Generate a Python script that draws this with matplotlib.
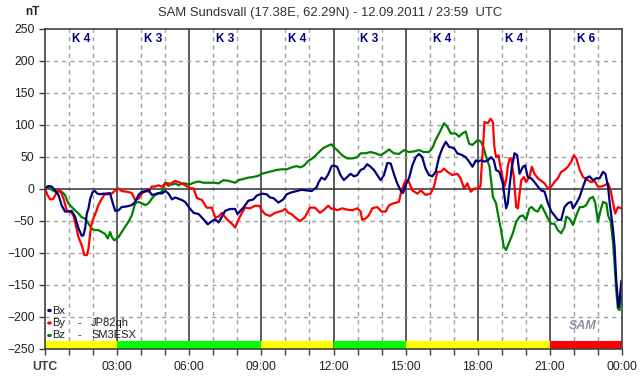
import matplotlib
matplotlib.use("Agg")
import matplotlib.pyplot as plt

# ---- data (hours UTC, nT) ----
bx_t = [0, .14, .28, .42, .56, .69, .83, .97, 1.11, 1.25, 1.39, 1.53, 1.60, 1.67, 1.74, 1.81, 1.88, 1.99, 2.08, 2.18,
        2.29, 2.43, 2.57, 2.71, 2.82, 2.92, 3.06, 3.19, 3.40, 3.61, 3.75, 3.89, 4.03, 4.17, 4.31, 4.44, 4.58, 4.72, 4.86,
        5.0, 5.14, 5.28, 5.42, 5.56, 5.69, 5.83,
        6.0, 6.18, 6.39, 6.59, 6.77, 6.94, 7.08, 7.22, 7.36, 7.49, 7.70, 7.91, 8.01, 8.12, 8.25, 8.46, 8.67, 8.81, 9.02,
        9.22, 9.36, 9.50, 9.71, 9.91, 10.05, 10.26, 10.47, 10.67, 10.88, 11.09, 11.30, 11.37, 11.50, 11.64, 11.78, 11.92,
        12.0, 12.15, 12.29, 12.43, 12.57, 12.71, 12.85, 12.99, 13.13, 13.26, 13.40, 13.54, 13.68, 13.82, 13.96, 14.10,
        14.24, 14.38, 14.51, 14.65, 14.79, 14.89, 15.0, 15.14, 15.28, 15.42, 15.56, 15.69, 15.83, 15.97, 16.11, 16.25,
        16.39, 16.53, 16.67, 16.81, 17.01, 17.15, 17.36, 17.5, 17.64, 17.78, 17.92,
        18.0, 18.14, 18.28, 18.42, 18.56, 18.67, 18.76, 18.9, 19.04, 19.18, 19.25, 19.32, 19.42, 19.53, 19.64, 19.74,
        19.88, 19.97, 20.08, 20.22, 20.36, 20.5, 20.64, 20.78, 20.92, 21.06, 21.19, 21.33, 21.47, 21.61, 21.75, 21.89,
        21.96, 22.1, 22.24, 22.38, 22.51, 22.65, 22.79, 22.93, 23.07, 23.21, 23.31, 23.42, 23.49, 23.56, 23.63, 23.69,
        23.76, 23.85, 23.9, 23.97]
bx_v = [0, 4, 3, -3, -10, -26, -36, -36, -35, -44, -62, -74, -73, -62, -39, -31, -16, -5, -4, -8,
        -9, -8, -9, -8, -23, -35, -34, -29, -28, -26, -21, -10, -5, -5, -2, -10, -9, -7, -8,
        -4, -8, -17, -14, -16, -18, -21,
        -30, -38, -40, -48, -56, -51, -48, -53, -44, -35, -32, -32, -40, -35, -30, -19, -17, -11, -8,
        -9, -14, -15, -22, -17, -9, -6, -4, -2, -3, -4, 2, 9, 17, 14, 22, 35,
        36, 34, 21, 13, 18, 23, 19, 21, 29, 31, 38, 34, 29, 21, 13, 21,
        40, 39, 23, 8, -3, -7, 5, 16, 36, 49, 54, 49, 31, 21, 19, 26,
        49, 63, 73, 65, 63, 55, 52, 49, 42, 34, 44,
        42, 44, 42, 44, 49, 44, 29, 26, 8, -31, -23, 3, 34, 55, 52, 23,
        34, 36, 18, 16, 10, 3, -3, -5, -23, -36, -42, -49, -49, -29, -23, -21,
        -31, -23, -13, 3, 16, 19, 13, 16, 16, 26, 23, 3, -23, -44, -65, -91,
        -143, -185, -175, -145]

by_t = [0, .10, .21, .35, .46, .56, .63, .69, .79, .90, 1.01, 1.11, 1.18, 1.25, 1.39, 1.53, 1.64, 1.74, 1.81, 1.88,
        1.94, 2.01, 2.13, 2.22, 2.36, 2.5, 2.64, 2.78, 2.92, 3.06, 3.19, 3.40, 3.61, 3.75, 3.89, 4.03, 4.17, 4.31,
        4.44, 4.58, 4.72, 4.86, 5.0, 5.14, 5.28, 5.42, 5.56, 5.69, 5.83,
        6.0, 6.18, 6.32, 6.53, 6.73, 6.94, 7.08, 7.22, 7.36, 7.56, 7.77, 7.91, 8.02, 8.19, 8.32, 8.53, 8.74, 8.91,
        9.04, 9.15, 9.36, 9.57, 9.85, 9.99, 10.12, 10.26, 10.40, 10.61, 10.81, 11.02, 11.23, 11.44, 11.64, 11.78, 11.92,
        12.0, 12.15, 12.36, 12.57, 12.78, 12.99, 13.13, 13.19, 13.33, 13.47, 13.61, 13.82, 14.0, 14.17, 14.31, 14.51,
        14.72, 14.83, 15.0, 15.14, 15.28, 15.49, 15.63, 15.83, 16.04, 16.18, 16.32, 16.46, 16.6, 16.74, 16.94, 17.15,
        17.29, 17.43, 17.57, 17.71, 17.85,
        18.0, 18.11, 18.21, 18.28, 18.42, 18.53, 18.63, 18.69, 18.76, 18.86, 18.97, 19.11, 19.18, 19.25, 19.32, 19.39,
        19.5, 19.6, 19.67, 19.74, 19.81, 19.92, 20.01, 20.15, 20.25, 20.36, 20.5, 20.64, 20.78, 20.92, 21.06, 21.19,
        21.33, 21.47, 21.61, 21.75, 21.89, 22.0, 22.1, 22.24, 22.38, 22.58, 22.72, 22.86, 23.0, 23.14, 23.28, 23.42,
        23.53, 23.63, 23.72, 23.83, 23.97]
by_v = [0, -10, -17, -16, -8, -2, -3, -8, -18, -34, -36, -38, -42, -52, -76, -89, -104, -104, -94, -70,
        -55, -47, -36, -26, -16, -8, -7, -8, -3, 0, -4, -5, -7, -18, -16, -8, -3, -5,
        3, 3, 5, 3, 8, 4, 9, 12, 10, 8, 5,
        1, 0, -15, -18, -30, -30, -45, -44, -38, -48, -55, -61, -51, -38, -30, -31, -27, -27,
        -35, -40, -43, -38, -35, -32, -38, -40, -45, -51, -45, -30, -30, -38, -32, -27, -32,
        -31, -34, -31, -33, -34, -31, -36, -49, -47, -42, -31, -29, -36, -36, -26, -23,
        -21, -3, 13, 10, -3, -8, -3, -10, -8, 3, 26, 26, 31, 26, 21, 23,
        16, 0, 8, -5, 0,
        0, 3, 60, 104, 102, 109, 104, 65, 49, 52, 29, 3, 13, 34, 47, 47,
        18, -29, -31, -8, 13, 18, 10, 18, 34, 23, 16, 12, 8, 0, 3, 10,
        16, 26, 29, 34, 42, 52, 47, 29, 18, 13, 10, 12, 3, 3, 5, 8,
        -3, -23, -39, -29, -31]

bz_t = [0, .14, .28, .42, .56, .69, .83, .97, 1.11, 1.25, 1.39, 1.53, 1.67, 1.81, 1.94, 2.08, 2.22, 2.36, 2.5, 2.61,
        2.71, 2.78, 2.88, 3.06, 3.19, 3.33, 3.47, 3.61, 3.75, 3.89, 4.03, 4.17, 4.31, 4.44, 4.58, 4.72, 4.86, 5.0,
        5.14, 5.28, 5.42, 5.56, 5.69, 5.83,
        6.0, 6.18, 6.39, 6.59, 6.8, 7.01, 7.22, 7.42, 7.63, 7.91, 8.05, 8.25, 8.46, 8.67, 8.88, 9.02, 9.22, 9.43,
        9.64, 9.85, 10.05, 10.26, 10.47, 10.61, 10.75, 10.95, 11.16, 11.37, 11.57, 11.78, 11.92,
        12.0, 12.15, 12.36, 12.57, 12.78, 12.99, 13.13, 13.33, 13.54, 13.75, 13.96, 14.17, 14.31, 14.51, 14.72, 14.93,
        15.14, 15.35, 15.56, 15.76, 15.97, 16.11, 16.25, 16.39, 16.6, 16.74, 16.88, 17.08, 17.22, 17.36, 17.5, 17.64,
        17.78, 17.92,
        18.0, 18.14, 18.25, 18.35, 18.49, 18.63, 18.76, 18.86, 18.97, 19.08, 19.18, 19.32, 19.46, 19.6, 19.74, 19.88,
        20.01, 20.15, 20.25, 20.36, 20.5, 20.64, 20.78, 20.92, 21.06, 21.19, 21.33, 21.47, 21.61, 21.68, 21.82, 21.96,
        22.1, 22.24, 22.38, 22.51, 22.65, 22.79, 22.89, 23.0, 23.11, 23.21, 23.35, 23.42, 23.53, 23.63, 23.69, 23.76,
        23.83, 23.9, 23.97]
bz_v = [0, 3, -2, -5, -5, -5, -10, -23, -29, -34, -39, -45, -47, -55, -63, -65, -65, -68, -71, -78,
        -68, -76, -81, -76, -68, -60, -52, -42, -23, -21, -23, -26, -23, -16, -10, -8, -5, 9,
        8, 6, 8, 5, 8, 8,
        6, 9, 11, 9, 9, 9, 8, 13, 12, 9, 13, 15, 17, 18, 20, 23, 25, 27,
        29, 30, 30, 33, 35, 33, 35, 43, 48, 56, 63, 67, 69,
        65, 60, 52, 47, 47, 49, 55, 55, 57, 55, 52, 57, 61, 55, 54, 60,
        57, 58, 60, 57, 57, 63, 76, 86, 102, 96, 86, 86, 81, 86, 89, 70,
        68, 73,
        76, 73, 63, 49, 34, -13, -23, -44, -65, -91, -96, -83, -70, -52, -44, -42,
        -49, -31, -29, -34, -36, -26, -36, -47, -55, -55, -65, -70, -60, -44, -47, -57,
        -42, -29, -29, -26, -16, -13, -23, -52, -34, -21, -23, -42, -52, -86, -117, -159,
        -188, -190, -169]

k_index = [4, 3, 3, 4, 3, 4, 4, 6]
k_colors = {3: "#00ff00", 4: "#ffff00", 6: "#ff0000"}
hour_labels = ["UTC", "03:00", "06:00", "09:00", "12:00", "15:00", "18:00", "21:00", "00:00"]

W, H = 642, 376
fig = plt.figure(figsize=(W / 100, H / 100), dpi=100)
plt.rcParams['font.family'] = ['Liberation Sans', 'DejaVu Sans']
ax = fig.add_axes([45 / W, 1 - 348.5 / H, 577 / W, 320 / H])

def fx(x):
    return x / W

def fy(y):
    return 1 - y / H

# grid
for h in range(1, 24):
    if h % 3:
        ax.axvline(h, color="#a0a0a0", lw=1, ls=(0, (3, 3)), zorder=1)
    else:
        ax.axvline(h, color="#404040", lw=1.2, zorder=1)
for v in range(-200, 250, 50):
    if v == 0:
        ax.axhline(0, color="#404040", lw=1.2, zorder=1)
    else:
        ax.axhline(v, color="#a0a0a0", lw=1, ls=(0, (3, 3)), zorder=1)

ax.plot(bz_t, bz_v, color="#008000", lw=1.6, zorder=3)
ax.plot(by_t, by_v, color="#ff0000", lw=1.6, zorder=4)
ax.plot(bx_t, bx_v, color="#000080", lw=1.6, zorder=5)

# K-index band and labels
for i, k in enumerate(k_index):
    ax.bar(i * 3, 12.5, width=3, bottom=-250, align="edge", color=k_colors[k], lw=0, zorder=6)
    ax.text(i * 3 + 1.5, 234, "K %d" % k, color="#000080", fontsize=8.5, fontweight="bold",
            ha="center", va="center", zorder=7)

ax.set_xlim(0, 24)
ax.set_ylim(-250, 250)
ax.set_yticks(range(-250, 251, 50))
ax.set_xticks(range(0, 25, 3))
ax.set_xticklabels(hour_labels)
ax.set_xticks(range(0, 25), minor=True)
ax.tick_params(axis="both", which="both", direction="out", length=4, width=1, color="#404040",
               labelsize=8.8, labelcolor="#202020")
ax.tick_params(axis="x", pad=5)
ax.get_xticklabels()[0].set_fontweight("bold")
ax.get_xticklabels()[0].set_color("#404040")
for s in ax.spines.values():
    s.set_color("#404040")
    s.set_linewidth(1.2)
    s.set_zorder(8)

fig.text(fx(40), fy(12), "nT", fontsize=8.5, fontweight="bold", color="#202020", ha="right", va="center")
fig.text(fx(330), fy(13), "SAM Sundsvall (17.38E, 62.29N) - 12.09.2011 / 23:59  UTC",
         fontsize=9.4, color="#303030", ha="center", va="center")

# legend
leg = [("Bx", "", "", "#000080", 310.5), ("By", "-", "JP82qh", "#ff0000", 323), ("Bz", "-", "SM3ESX", "#008000", 335.5)]
for name, dash, call, col, y in leg:
    fig.patches.append(plt.Circle((fx(49.5), fy(y)), 1.6 / W, color=col, transform=fig.transFigure,
                                  figure=fig))
    fig.text(fx(52), fy(y), name, fontsize=8, color="#202020", va="center")
    fig.text(fx(78), fy(y), dash, fontsize=8, color="#202020", va="center")
    fig.text(fx(91), fy(y), call, fontsize=8, color="#202020", va="center")

fig.text(fx(583), fy(326), "SAM", fontsize=9, fontstyle="italic", fontweight="bold",
         color="#8a8fa8", ha="center", va="center")

fig.savefig("out.png", dpi=100)
